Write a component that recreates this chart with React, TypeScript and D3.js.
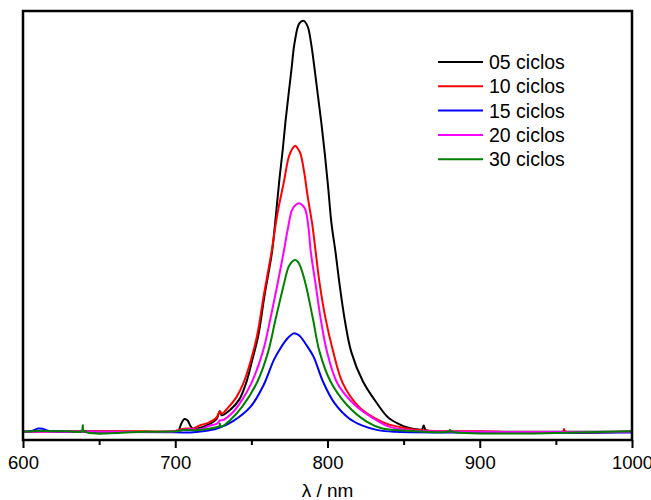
import React, { useRef, useEffect } from 'react';
import * as d3 from 'd3';

// wavelength (nm), intensity (a.u.)
const black05 = [
  [600, 2], [610, 3], [640, 2], [670, 2], [700, 2], [702, 4], [704, 22], [706, 33], [708, 30], [710, 16],
  [712, 8], [716.5, 12], [722, 20], [727, 32], [729.3, 52], [730.5, 42], [736, 55], [742, 80],
  [746.5, 120], [750.5, 175], [754.5, 235], [758.5, 330], [763.6, 440], [765.8, 516], [768.6, 622],
  [770.6, 687], [772.5, 759], [774.5, 824], [776.3, 881], [778.3, 945], [781.5, 994], [784.4, 1000],
  [787, 986], [789.2, 946], [791.6, 881], [793.8, 816], [796, 751], [798.2, 678], [800.4, 597],
  [802.6, 508], [805.2, 440], [808, 358], [811.2, 277], [815.6, 196], [823.3, 124], [832.7, 70],
  [840, 36], [847.4, 20], [852, 13], [857, 9], [862, 8], [863.2, 17], [864.5, 6], [870, 3],
  [900, 2], [950, 2], [1000, 2],
];
const red10 = [
  [600, 2], [640, 3], [680, 3], [700, 4], [704, 8], [708, 10], [712, 10], [716.5, 18], [722, 24],
  [727, 36], [729.3, 52], [730.5, 46], [735, 62], [740, 85], [745, 122], [750, 180], [754, 240],
  [758, 330], [763.3, 440], [765.5, 495], [768, 549], [771.2, 606], [774.6, 670], [777, 690],
  [778.9, 697], [780.5, 690], [782.2, 678], [784.8, 630], [787, 573], [789.9, 508], [792.1, 443],
  [794.8, 363], [798.5, 281], [803.5, 200], [810, 120], [820, 65], [831, 35], [840, 20], [848, 13],
  [855, 8], [862, 6], [870, 4], [900, 3], [955, 3], [955.3, 9], [956, 3], [1000, 3],
];
const blue15 = [
  [600, 2], [606, 4], [610, 10], [613, 9], [617, 4], [640, 2], [700, 1], [710, 0], [718, 3],
  [727.5, 10], [738, 28], [749.5, 63], [758, 115], [764.7, 176], [769.1, 205], [773.5, 228],
  [777.8, 241], [780, 239], [782.2, 233], [786.6, 210], [790.9, 184], [797, 124], [804.5, 72],
  [814, 35], [823, 17], [833, 6], [845, 2], [900, 0], [1000, 0],
];
const magenta20 = [
  [600, 2], [640, 2], [700, 3], [705, 7], [710, 8], [716.5, 8], [722, 16], [727.5, 22], [729.5, 30],
  [731, 30], [738, 50], [744, 80], [750, 120], [757.5, 196], [762.5, 277], [767, 358], [771.3, 440],
  [773.8, 492], [776.7, 541], [779, 553], [781.5, 557], [783.5, 552], [785.5, 541], [787.7, 492],
  [789, 440], [792.2, 360], [795.5, 277], [799.7, 196], [806.5, 120], [818, 67], [830, 35],
  [840, 15], [850, 7], [870, 3], [1000, 2],
];
const green30 = [
  [600, 2], [612, 4], [630, 3], [638.5, 3], [639.3, 18], [640, 3], [680, 2], [700, 3], [705, 6],
  [710, 6], [716, 6], [723, 10], [729, 16], [729.3, 22], [730, 14], [736, 30], [744, 63], [754, 124],
  [761, 196], [766, 277], [771.2, 358], [774.5, 403], [776.7, 415], [778.7, 419], [780.5, 415],
  [782.2, 403], [785.8, 358], [790.4, 277], [794.8, 196], [802, 124], [812.8, 67], [826, 26],
  [836, 10], [850, 5], [880, 3], [880.5, 7], [881, 3], [1000, 3],
];

const seriesNames = ['05 ciclos', '10 ciclos', '15 ciclos', '20 ciclos', '30 ciclos'];
const seriesColors = ['#000000', '#ff0000', '#0000ff', '#ff00ff', '#008000'];
const seriesData = [black05, red10, blue15, magenta20, green30];
const xTicks = [600, 700, 800, 900, 1000];
const xMinorTicks = [650, 750, 850, 950];

const FONT = '"Liberation Sans", Arial, Helvetica, sans-serif';

const App = () => {
  const svgRef = useRef<SVGSVGElement>(null);

  useEffect(() => {
    const width = 651;
    const height = 500;
    const margin = { top: 11, right: 19, bottom: 60, left: 23 };

    const svg = d3.select(svgRef.current);
    svg.selectAll('*').remove();
    svg.attr('width', width).attr('height', height);

    const innerWidth = width - margin.left - margin.right;
    const innerHeight = height - margin.top - margin.bottom;

    const g = svg.append('g').attr('transform', `translate(${margin.left},${margin.top})`);

    const xScale = d3.scaleLinear().domain([600, 1000]).range([0, innerWidth]);
    const yScale = d3.scaleLinear().domain([-18, 1024]).range([innerHeight, 0]);

    // clip to the frame
    svg.append('defs').append('clipPath').attr('id', 'plot-clip')
      .append('rect').attr('width', innerWidth).attr('height', innerHeight);

    const line = d3.line<number[]>()
      .x(d => xScale(d[0]))
      .y(d => yScale(d[1]))
      .curve(d3.curveCatmullRom.alpha(0.5));

    const curves = g.append('g').attr('clip-path', 'url(#plot-clip)');
    seriesData.forEach((data, i) => {
      curves.append('path')
        .datum(data)
        .attr('fill', 'none')
        .attr('stroke', seriesColors[i])
        .attr('stroke-width', 2)
        .attr('stroke-linejoin', 'round')
        .attr('d', line);
    });

    // frame
    g.append('rect')
      .attr('width', innerWidth)
      .attr('height', innerHeight)
      .attr('fill', 'none')
      .attr('stroke', '#000')
      .attr('stroke-width', 2.5);

    // x axis
    const xAxisG = g.append('g')
      .attr('transform', `translate(0,${innerHeight})`)
      .call(d3.axisBottom(xScale).tickValues(xTicks).tickSize(8).tickPadding(8).tickFormat(d3.format('d')));
    xAxisG.select('.domain').remove();
    xAxisG.selectAll('line').attr('stroke', '#000').attr('stroke-width', 2);
    xAxisG.selectAll('text')
      .attr('fill', '#000')
      .attr('font-family', FONT)
      .attr('font-size', 18.5);

    const minorG = g.append('g')
      .attr('transform', `translate(0,${innerHeight})`)
      .call(d3.axisBottom(xScale).tickValues(xMinorTicks).tickSize(5).tickFormat(() => ''));
    minorG.select('.domain').remove();
    minorG.selectAll('line').attr('stroke', '#000').attr('stroke-width', 2);

    svg.append('text')
      .attr('x', margin.left + innerWidth / 2)
      .attr('y', 497)
      .attr('text-anchor', 'middle')
      .attr('font-family', FONT)
      .attr('font-size', 19)
      .text('λ / nm');

    // legend
    const legend = svg.append('g').attr('transform', 'translate(438,62)');
    seriesNames.forEach((name, i) => {
      const row = legend.append('g').attr('transform', `translate(0,${i * 24.3})`);
      row.append('line')
        .attr('x1', 0).attr('x2', 45)
        .attr('stroke', seriesColors[i])
        .attr('stroke-width', 2);
      row.append('text')
        .attr('x', 51)
        .attr('y', 7)
        .attr('font-family', FONT)
        .attr('font-size', 19.5)
        .attr('fill', '#000')
        .text(name);
    });
  }, []);

  return (
    <div style={{ position: 'absolute', left: 0, top: 0 }}>
      <svg ref={svgRef} style={{ display: 'block' }}></svg>
    </div>
  );
};

export default App;
